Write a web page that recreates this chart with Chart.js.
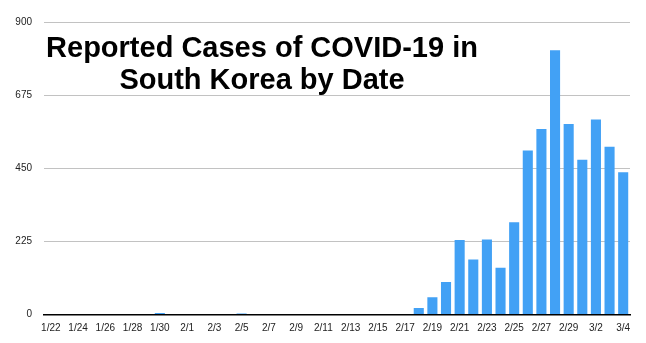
<!DOCTYPE html>
<html>
<head>
<meta charset="utf-8">
<script src="https://cdn.jsdelivr.net/npm/chart.js@4"></script>
<style>
  html, body { margin: 0; padding: 0; background: #fff; }
  #wrap { width: 646px; height: 343px; position: relative; }
</style>
</head>
<body>
<div id="wrap"><canvas id="myChart" width="646" height="343"></canvas></div>
<script>
    // dates shown on the x axis (every other one gets a label)
    const dates = [
      '1/22', '1/23', '1/24', '1/25', '1/26', '1/27', '1/28', '1/29', '1/30', '1/31',
      '2/1', '2/2', '2/3', '2/4', '2/5', '2/6', '2/7', '2/8', '2/9', '2/10',
      '2/11', '2/12', '2/13', '2/14', '2/15', '2/16', '2/17', '2/18', '2/19', '2/20',
      '2/21', '2/22', '2/23', '2/24', '2/25', '2/26', '2/27', '2/28', '2/29',
      '3/1', '3/2', '3/3', '3/4'
    ]
    // new reported cases per day
    const cases = [
      0, 0, 0, 0, 0, 0, 0, 0, 5, 0,
      0, 0, 0, 0, 3, 0, 0, 0, 0, 0,
      0, 0, 0, 0, 0, 0, 0, 20, 53, 100,
      229, 169, 231, 144, 284, 505, 571, 813, 586,
      476, 600, 516, 438
    ]
    const yTicks = [0, 225, 450, 675, 900]
    const titleLines = ['Reported Cases of COVID-19 in', 'South Korea by Date']

    const titlePlugin = {
      id: 'titleText',
      afterDraw(chart) {
        const ctx = chart.ctx
        ctx.save()
        ctx.fillStyle = '#000'
        ctx.font = 'bold 29px "Liberation Sans", Arial, sans-serif'
        ctx.textAlign = 'center'
        ctx.textBaseline = 'alphabetic'
        ctx.fillText(titleLines[0], 262, 57)
        ctx.fillText(titleLines[1], 262, 89)
        ctx.restore()
      }
    }

    const datachart = {
      labels: dates,
      datasets: [{
        label: 'Cases',
        data: cases,
        backgroundColor: '#42a1f5',
        borderWidth: 0,
        categoryPercentage: 1.0,
        barPercentage: 0.74
      }]
    }

    const config = {
      type: 'bar',
      data: datachart,
      options: {
        responsive: false,
        animation: false,
        layout: { padding: { top: 22, right: 16, bottom: 0, left: 0 } },
        plugins: {
          legend: { display: false },
          tooltip: { enabled: false }
        },
        scales: {
          x: {
            grid: { display: false, drawTicks: false },
            border: { display: true, color: '#000', width: 1.5 },
            ticks: {
              autoSkip: false,
              maxRotation: 0,
              minRotation: 0,
              padding: 8,
              color: '#222',
              font: { family: '"Liberation Sans", Arial, sans-serif', size: 10 },
              callback: function (val, index) {
                return index % 2 === 0 ? dates[index] : ''
              }
            },
            afterFit: function (scale) { scale.height = 28.5 }
          },
          y: {
            min: 0,
            max: 900,
            afterBuildTicks: function (scale) {
              scale.ticks = yTicks.map(function (v) { return { value: v } })
            },
            grid: {
              drawTicks: false,
              color: function (c) { return c.tick && c.tick.value === 0 ? '#000' : '#c2c2c2' },
              lineWidth: 1
            },
            border: { display: false },
            ticks: {
              padding: 12,
              color: '#222',
              font: { family: '"Liberation Sans", Arial, sans-serif', size: 10 }
            },
            afterFit: function (scale) { scale.width = 44 }
          }
        }
      },
      plugins: [titlePlugin]
    }

    const myChart = new Chart(
      document.getElementById('myChart'),
      config
    )
</script>
</body>
</html>
